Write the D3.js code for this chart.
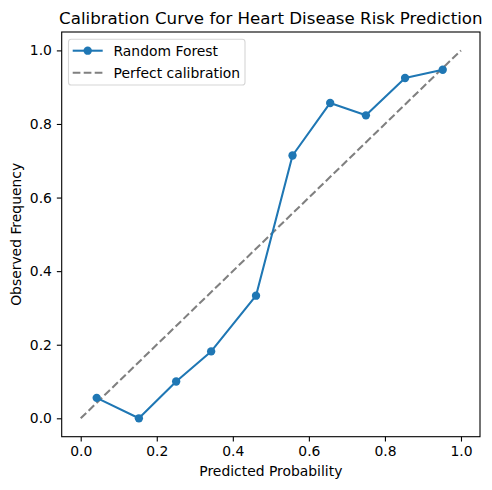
<!DOCTYPE html>
<html>
<head>
<meta charset="utf-8">
<script src="https://cdn.jsdelivr.net/npm/d3@7"></script>
<style>
  html, body { margin: 0; padding: 0; background: #fff; }
  svg { display: block; font-family: "DejaVu Sans", sans-serif; }
</style>
</head>
<body>
<div id="chart"></div>
<script>
const title = "Calibration Curve for Heart Disease Risk Prediction";
const xLabel = "Predicted Probability";
const yLabel = "Observed Frequency";
const seriesName = "Random Forest";
const refName = "Perfect calibration";

const predicted = [0.042, 0.153, 0.251, 0.343, 0.461, 0.557, 0.656, 0.750, 0.853, 0.952];
const observed  = [0.0556, 0.0, 0.1, 0.1818, 0.3333, 0.7143, 0.8571, 0.8235, 0.925, 0.9474];
const refLine = [0, 1];
const xTicks = [0.0, 0.2, 0.4, 0.6, 0.8, 1.0];
const yTicks = [0.0, 0.2, 0.4, 0.6, 0.8, 1.0];

const W = 492, H = 490;
const mLeft = 61.7, mRight = 480, mTop = 32, mBottom = 436.7;

const svg = d3.select("#chart").append("svg")
  .attr("width", W).attr("height", H);

const x = d3.scaleLinear().domain([-0.05, 1.05]).range([mLeft, mRight]);
const y = d3.scaleLinear().domain([-0.05, 1.05]).range([mBottom, mTop]);

const tickFont = "13.9px";

// X axis
const xAxis = svg.append("g")
  .attr("transform", `translate(0,${mBottom})`)
  .call(d3.axisBottom(x).tickValues(xTicks).tickFormat(d3.format(".1f")).tickSizeOuter(0).tickSize(4.86).tickPadding(4.9));
xAxis.select(".domain").remove();
xAxis.selectAll("line").attr("stroke", "#000").attr("stroke-width", 1.1);
xAxis.selectAll("text").attr("font-size", tickFont).attr("fill", "#000")
  .attr("font-family", "DejaVu Sans");

// Y axis
const yAxis = svg.append("g")
  .attr("transform", `translate(${mLeft},0)`)
  .call(d3.axisLeft(y).tickValues(yTicks).tickFormat(d3.format(".1f")).tickSizeOuter(0).tickSize(4.86).tickPadding(4.9));
yAxis.select(".domain").remove();
yAxis.selectAll("line").attr("stroke", "#000").attr("stroke-width", 1.1);
yAxis.selectAll("text").attr("font-size", tickFont).attr("fill", "#000")
  .attr("font-family", "DejaVu Sans");

// Clip
svg.append("clipPath").attr("id", "clip").append("rect")
  .attr("x", mLeft).attr("y", mTop).attr("width", mRight - mLeft).attr("height", mBottom - mTop);

const plot = svg.append("g").attr("clip-path", "url(#clip)");

// Perfect calibration
plot.append("line")
  .attr("x1", x(refLine[0])).attr("y1", y(refLine[0]))
  .attr("x2", x(refLine[1])).attr("y2", y(refLine[1]))
  .attr("stroke", "#808080").attr("stroke-width", 2.08)
  .attr("stroke-dasharray", "7.7,3.3");

const data = predicted.map((p, i) => ({p, o: observed[i]}));
const line = d3.line().x(d => x(d.p)).y(d => y(d.o));
plot.append("path").datum(data).attr("d", line)
  .attr("fill", "none").attr("stroke", "#1f77b4").attr("stroke-width", 2.08)
  .attr("stroke-linejoin", "round").attr("stroke-linecap", "butt");
plot.selectAll("circle.pt").data(data).enter().append("circle")
  .attr("class", "pt")
  .attr("cx", d => x(d.p)).attr("cy", d => y(d.o)).attr("r", 4.17)
  .attr("fill", "#1f77b4");

// Frame
svg.append("rect").attr("x", mLeft).attr("y", mTop)
  .attr("width", mRight - mLeft).attr("height", mBottom - mTop)
  .attr("fill", "none").attr("stroke", "#000").attr("stroke-width", 1.1);

// Title
svg.append("text").attr("x", (mLeft + mRight) / 2).attr("y", 24)
  .attr("text-anchor", "middle").attr("font-size", "16.67px").attr("fill", "#000")
  .text(title);

// Axis labels
svg.append("text").attr("x", (mLeft + mRight) / 2).attr("y", 476)
  .attr("text-anchor", "middle").attr("font-size", tickFont).attr("fill", "#000")
  .text(xLabel);
svg.append("text")
  .attr("transform", `translate(20.8,${(mTop + mBottom) / 2}) rotate(-90)`)
  .attr("text-anchor", "middle").attr("font-size", tickFont).attr("fill", "#000")
  .text(yLabel);

// Legend
const lg = svg.append("g");
lg.append("rect").attr("x", 68.5).attr("y", 39.3).attr("width", 176.5).attr("height", 45.7)
  .attr("rx", 2.8).attr("ry", 2.8)
  .attr("fill", "#fff").attr("fill-opacity", 0.8)
  .attr("stroke", "#d6d6d6").attr("stroke-width", 1.1);
const lx1 = 72.7, lx2 = 102.7;
const ly1 = 50.7, ly2 = 72.7;
lg.append("line").attr("x1", lx1).attr("x2", lx2).attr("y1", ly1).attr("y2", ly1)
  .attr("stroke", "#1f77b4").attr("stroke-width", 2.08);
lg.append("circle").attr("cx", (lx1 + lx2) / 2).attr("cy", ly1).attr("r", 4.17).attr("fill", "#1f77b4");
lg.append("line").attr("x1", lx1).attr("x2", lx2).attr("y1", ly2).attr("y2", ly2)
  .attr("stroke", "#808080").attr("stroke-width", 2.08).attr("stroke-dasharray", "7.7,3.3");
lg.append("text").attr("x", 113.5).attr("y", ly1 + 5).attr("font-size", tickFont).attr("fill", "#000").text(seriesName);
lg.append("text").attr("x", 113.5).attr("y", ly2 + 5).attr("font-size", tickFont).attr("fill", "#000").text(refName);
</script>
</body>
</html>
